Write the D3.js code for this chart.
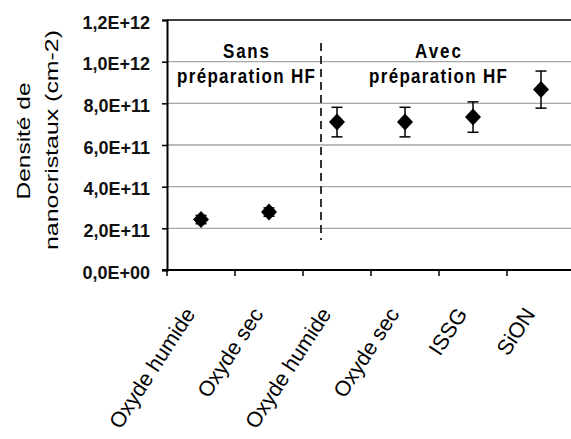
<!DOCTYPE html>
<html>
<head>
<meta charset="utf-8">
<script src="https://cdn.jsdelivr.net/npm/d3@7"></script>
<style>
  html, body { margin: 0; padding: 0; background: #fff; }
  svg { display: block; }
</style>
</head>
<body>
<svg id="chart" width="571" height="439"></svg>
<script>
const categories = ["Oxyde humide", "Oxyde sec", "Oxyde humide", "Oxyde sec", "ISSG", "SiON"];
const values = [2.42e11, 2.78e11, 7.1e11, 7.1e11, 7.34e11, 8.66e11];
const errors = [0.2e11, 0.2e11, 0.71e11, 0.71e11, 0.73e11, 0.89e11];
const yTicks = [0, 2e11, 4e11, 6e11, 8e11, 1e12, 1.2e12];
const yTickLabels = ["0,0E+00", "2,0E+11", "4,0E+11", "6,0E+11", "8,0E+11", "1,0E+12", "1,2E+12"];
const groupLabels = [["Sans", "préparation HF"], ["Avec", "préparation HF"]];
const yTitle = ["Densité de", "nanocristaux (cm-2)"];

(function () {
const svg = d3.select("#chart");
const mLeft = 167, mRight = 575, mTop = 20, mBottom = 270;

const x = d3.scaleBand().domain(d3.range(categories.length)).range([mLeft, mRight]).paddingInner(0).paddingOuter(0);
const y = d3.scaleLinear().domain([0, 1.2e12]).range([mBottom, mTop]);

// gridlines
svg.append("g").selectAll("line").data(yTicks.slice(1, -1)).join("line")
  .attr("x1", mLeft).attr("x2", mRight)
  .attr("y1", d => y(d)).attr("y2", d => y(d))
  .attr("stroke", "#a6a6a6").attr("stroke-width", 1.3);

// top border
svg.append("line").attr("x1", mLeft).attr("x2", mRight).attr("y1", y(1.2e12)).attr("y2", y(1.2e12))
  .attr("stroke", "#000").attr("stroke-width", 1.5);

// y axis
const yAxis = d3.axisLeft(y).tickValues(yTicks).tickSize(5).tickFormat((d, i) => yTickLabels[i]);
const gy = svg.append("g").attr("transform", `translate(${mLeft},0)`).call(yAxis);
gy.select(".domain").attr("stroke-width", 2);
gy.selectAll(".tick line").attr("stroke-width", 1.5);
gy.selectAll(".tick text")
  .attr("x", -17).attr("dy", "0.45em")
  .attr("font-family", "Liberation Sans, Arial, sans-serif")
  .attr("font-size", 18).attr("font-weight", "bold").attr("fill", "#111");

// x axis: ticks at category boundaries
const gx = svg.append("g").attr("transform", `translate(0,${mBottom})`);
gx.append("line").attr("x1", mLeft - 5).attr("x2", mRight).attr("y1", 0).attr("y2", 0)
  .attr("stroke", "#000").attr("stroke-width", 2);
gx.selectAll("line.tk").data(d3.range(categories.length + 1)).join("line").attr("class", "tk")
  .attr("x1", d => mLeft + d * x.bandwidth()).attr("x2", d => mLeft + d * x.bandwidth())
  .attr("y1", 0).attr("y2", 6).attr("stroke", "#000").attr("stroke-width", 1.5);
gx.selectAll("text").data(categories).join("text")
  .attr("transform", (d, i) => `translate(${x(i) + x.bandwidth() / 2 - 5},${44}) rotate(-57)`)
  .attr("text-anchor", "end")
  .attr("font-family", "Liberation Sans, Arial, sans-serif")
  .attr("font-size", 21.5).attr("fill", "#000")
  .text(d => d);

// y title
svg.append("text")
  .attr("transform", `translate(30,${141}) rotate(-90)`)
  .attr("text-anchor", "middle")
  .attr("font-family", "Liberation Sans, Arial, sans-serif").attr("font-size", 18)
  .attr("textLength", 117).attr("lengthAdjust", "spacingAndGlyphs")
  .text(yTitle[0]);
svg.append("text")
  .attr("transform", `translate(58,${140}) rotate(-90)`)
  .attr("text-anchor", "middle")
  .attr("font-family", "Liberation Sans, Arial, sans-serif").attr("font-size", 18)
  .attr("textLength", 220).attr("lengthAdjust", "spacingAndGlyphs")
  .text(yTitle[1]);

// dashed separator between groups
svg.append("line")
  .attr("x1", 321).attr("x2", 321).attr("y1", 43).attr("y2", 240)
  .attr("stroke", "#333").attr("stroke-width", 2).attr("stroke-dasharray", "8,5");

// group annotations
const groupCenters = [246, 438];
groupLabels.forEach((lines, g) => {
  svg.append("text").attr("transform", `translate(${groupCenters[g]},58) scale(1,1.2)`)
    .attr("text-anchor", "middle").attr("font-family", "Liberation Sans, Arial, sans-serif")
    .attr("font-weight", "bold").attr("font-size", 17)
    .attr("textLength", 46).attr("lengthAdjust", "spacing")
    .text(lines[0]);
  svg.append("text").attr("transform", `translate(${groupCenters[g]},83) scale(1,1.2)`)
    .attr("text-anchor", "middle").attr("font-family", "Liberation Sans, Arial, sans-serif")
    .attr("font-weight", "bold").attr("font-size", 17)
    .attr("textLength", 138).attr("lengthAdjust", "spacing")
    .text(lines[1]);
});

// error bars
const eb = svg.append("g").attr("stroke", "#000").attr("stroke-width", 1.5);
values.forEach((v, i) => {
  const cx = x(i) + x.bandwidth() / 2;
  const y1 = y(v + errors[i]), y2 = y(v - errors[i]);
  eb.append("line").attr("x1", cx).attr("x2", cx).attr("y1", y1).attr("y2", y2);
  eb.append("line").attr("x1", cx - 5.5).attr("x2", cx + 5.5).attr("y1", y1).attr("y2", y1);
  eb.append("line").attr("x1", cx - 5.5).attr("x2", cx + 5.5).attr("y1", y2).attr("y2", y2);
});

// diamond markers
svg.append("g").selectAll("path").data(values).join("path")
  .attr("d", (v, i) => {
    const cx = x(i) + x.bandwidth() / 2, cy = y(v);
    return `M${cx},${cy - 8.5}L${cx + 8},${cy}L${cx},${cy + 8.5}L${cx - 8},${cy}Z`;
  })
  .attr("fill", "#000");
})();
</script>
</body>
</html>
